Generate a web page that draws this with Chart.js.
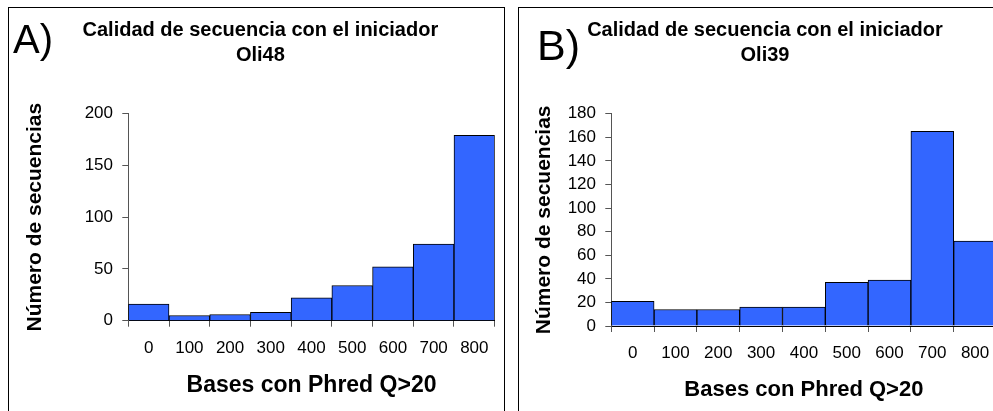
<!DOCTYPE html>
<html>
<head>
<meta charset="utf-8">
<script src="https://cdn.jsdelivr.net/npm/chart.js@4.4.1/dist/chart.umd.min.js"></script>
<style>
    html, body { margin: 0; padding: 0; background: #fff; overflow: hidden; }
    body { width: 993px; height: 411px; position: relative; }
    .box { position: absolute; border: 1px solid #000; box-sizing: border-box; }
    .tag { position: absolute; font-family: 'Liberation Sans', Arial, sans-serif; line-height: 1; color: #000; }
    canvas { position: absolute; }
</style>
</head>
<body>

<div class="box" style="left:8px; top:7px; width:497px; height:420px;"></div>
<div class="box" style="left:518px; top:7px; width:500px; height:420px;"></div>

<canvas id="chartA" width="494" height="403" style="left:10px; top:8px;"></canvas>
<canvas id="chartB" width="490" height="403" style="left:520px; top:8px;"></canvas>

<div class="tag" style="left:13px; top:19px; font-size:40px;">A)</div>
<div class="tag" style="left:537px; top:24px; font-size:43px;">B)</div>

<script>

// Histogram bins (Bases con Phred Q>20)
const binLabels = ['0', '100', '200', '300', '400', '500', '600', '700', '800'];

// Number of sequences per bin
const countsOli48 = [16, 5, 6, 8, 22, 34, 52, 74, 179];
const countsOli39 = [21, 14, 14, 16, 16, 37, 39, 165, 72];

// Y axis ranges
const yTicksOli48 = { max: 200, step: 50 };
const yTicksOli39 = { max: 180, step: 20 };

const barColor = '#3366ff';
const axisColor = '#555555';

Chart.defaults.font.family = "'Liberation Sans', Arial, sans-serif";
Chart.defaults.color = '#000';

/*
 * Build one histogram panel.
 */
function makeHistogram(id, counts, primer, yRange, p) {

    const ctx = document.getElementById(id);

    var data = {
        labels: binLabels,
        datasets: [{
            data: counts,
            backgroundColor: barColor,
            borderColor: '#000',
            borderWidth: 1,
            categoryPercentage: 1.0,
            barPercentage: 1.0
        }]
    };

    var options = {
        responsive: false,
        animation: false,
        devicePixelRatio: 1,
        layout: {
            padding: { left: p.padLeft, right: p.padRight, top: 0, bottom: 0 }
        },
        plugins: {
            legend: { display: false },
            tooltip: { enabled: false },
            title: {
                display: true,
                text: ['Calidad de secuencia con el iniciador', primer],
                color: '#000',
                font: { size: 20, weight: 'bold', lineHeight: 1.27 },
                padding: { top: 9.3, bottom: p.titleBottom }
            }
        },
        scales: {
            x: {
                afterFit: function(scale) { scale.height = p.xHeight; },
                grid: {
                    offset: true,
                    drawOnChartArea: false,
                    tickLength: 6,
                    color: axisColor
                },
                border: { display: true, color: '#000' },
                ticks: {
                    padding: p.xTickPad,
                    font: { size: 17 },
                    color: '#000',
                    maxRotation: 0
                },
                title: {
                    display: true,
                    text: 'Bases con Phred Q>20',
                    font: { size: p.xTitleSize, weight: 'bold' },
                    padding: { top: 0, bottom: p.xTitlePad }
                }
            },
            y: {
                min: 0,
                max: yRange.max,
                afterFit: function(scale) { scale.width = p.yWidth; },
                grid: {
                    drawOnChartArea: false,
                    tickLength: 6,
                    color: axisColor
                },
                border: { display: true, color: axisColor },
                ticks: {
                    stepSize: yRange.step,
                    padding: 9.3,
                    font: { size: 17 },
                    color: '#000'
                },
                title: {
                    display: true,
                    text: 'Número de secuencias',
                    font: { size: 21, weight: 'bold' },
                    padding: { top: p.yTitlePad, bottom: 0 }
                }
            }
        }
    };

    return new Chart(ctx, { type: 'bar', data, options });
}

var chartA = makeHistogram('chartA', countsOli48, 'Oli48', yTicksOli48, {
    padLeft: 16, padRight: 9.3, titleBottom: 45.5,
    xHeight: 90.3, xTickPad: 11.8, xTitleSize: 23, xTitlePad: 11.2,
    yWidth: 102.3, yTitlePad: -3.6
});

var chartB = makeHistogram('chartB', countsOli39, 'Oli39', yTicksOli39, {
    padLeft: 13.5, padRight: 13.5, titleBottom: 45.6,
    xHeight: 85, xTickPad: 10.7, xTitleSize: 22, xTitlePad: 7.8,
    yWidth: 77.8, yTitlePad: -1.6
});

</script>
</body>
</html>
